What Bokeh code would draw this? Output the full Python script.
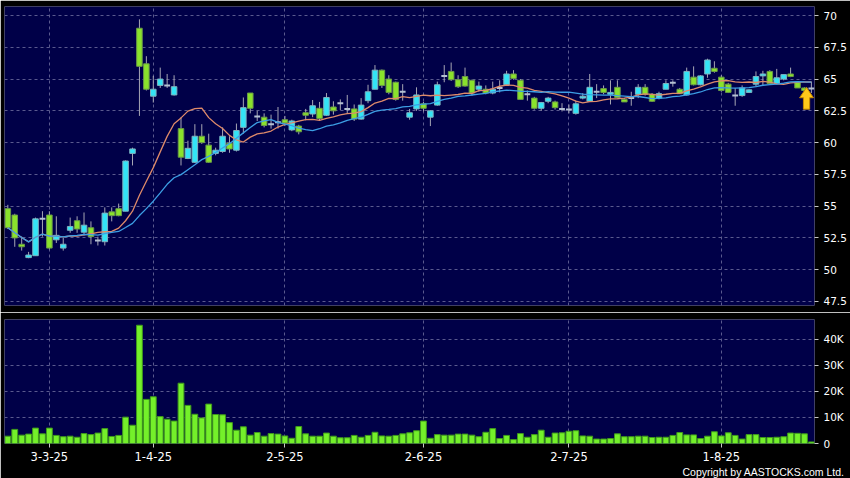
import numpy as np
import pandas as pd
from bokeh.plotting import figure
from bokeh.layouts import column
from bokeh.models import Range1d, FixedTicker, Title
from bokeh.embed import file_html
from bokeh.resources import INLINE

# ---------------- data ----------------
date_labels = ["3-3-25", "1-4-25", "2-5-25", "2-6-25", "2-7-25", "1-8-25"]
date_idx = [6, 21, 40, 60, 81, 103]

opens = [54.8, 54.3, 52.0, 50.95, 51.1, 54.0, 54.3, 52.35, 51.7, 53.1,
         53.85, 52.95, 53.3, 52.3, 52.2, 54.55, 54.8, 54.6, 59.15, 69.0,
         66.2, 63.65, 64.5, 64.5, 63.75, 61.1, 58.75, 58.45, 60.5, 59.8,
         59.15, 59.3, 59.95, 59.4, 61.2, 63.9, 62.05, 62.0, 61.45, 61.6,
         61.8, 61.0, 61.3, 62.35, 62.25, 62.7, 62.15, 62.8, 63.1, 62.65,
         62.65, 61.85, 63.3, 64.2, 65.7, 65.0, 64.75, 64.0, 62.0, 62.65,
         63.05, 62.0, 62.95, 65.25, 65.6, 64.95, 65.2, 64.9, 64.2, 64.2,
         63.9, 64.3, 64.55, 65.4, 64.9, 63.8, 63.5, 62.7, 63.25, 63.2,
         62.65, 62.6, 62.3, 63.5, 63.25, 64.0, 64.25, 63.8, 64.35, 63.4,
         63.5, 63.8, 64.35, 63.8, 63.5, 64.2, 64.7, 64.2, 63.75, 65.15,
         64.55, 65.4, 65.85, 65.15, 64.6, 63.7, 63.7, 63.95, 64.6, 65.25,
         65.6, 64.65, 65.0, 65.4, 64.75, 64.3, 64.25]
highs = [55.1, 54.4, 52.6, 51.4, 54.1, 54.6, 54.6, 54.2, 52.5, 54.1,
         54.2, 54.5, 53.8, 52.6, 54.9, 54.9, 55.2, 58.6, 59.6, 69.7,
         66.8, 65.25, 65.9, 65.4, 65.3, 62.0, 60.15, 61.45, 61.45, 60.7,
         59.6, 61.2, 60.5, 61.5, 63.55, 63.9, 62.5, 62.3, 62.2, 62.8,
         62.1, 61.8, 61.4, 62.65, 63.35, 63.2, 63.9, 63.25, 63.4, 63.75,
         63.0, 63.5, 64.55, 66.1, 65.75, 65.3, 64.8, 64.6, 62.65, 64.35,
         63.2, 62.55, 64.8, 66.1, 66.3, 65.3, 65.9, 64.95, 64.8, 64.5,
         64.8, 64.9, 65.65, 65.7, 65.0, 64.1, 63.6, 63.2, 63.6, 63.3,
         63.1, 63.0, 63.3, 63.9, 65.4, 64.6, 64.5, 64.9, 64.9, 63.5,
         64.0, 64.6, 64.6, 63.9, 64.0, 64.9, 64.9, 64.3, 65.9, 66.0,
         65.3, 66.6, 66.4, 65.3, 64.7, 64.3, 64.5, 64.2, 65.6, 65.65,
         65.7, 65.8, 65.35, 65.9, 64.8, 64.35, 64.8]
lows = [53.2, 51.8, 51.5, 50.9, 51.1, 52.6, 51.6, 52.1, 51.5, 52.9,
        52.9, 52.7, 52.0, 51.9, 51.9, 53.8, 54.2, 54.6, 58.2, 62.1,
        64.1, 63.15, 64.3, 64.3, 63.7, 58.2, 58.7, 58.4, 59.9, 58.4,
        59.0, 59.2, 59.2, 59.3, 60.7, 62.3, 61.7, 61.2, 61.1, 61.1,
        61.3, 60.9, 60.65, 61.75, 62.0, 61.75, 62.1, 62.2, 62.55, 62.25,
        61.7, 61.8, 63.1, 64.2, 64.3, 63.8, 63.3, 63.3, 61.8, 62.5,
        62.45, 61.3, 62.9, 64.75, 64.85, 64.3, 64.4, 63.7, 64.0, 63.8,
        63.8, 63.95, 64.5, 64.95, 63.4, 63.3, 62.6, 62.5, 63.1, 62.6,
        62.45, 62.3, 62.2, 63.4, 63.2, 63.5, 63.8, 63.0, 63.5, 63.2,
        62.9, 63.5, 63.7, 63.2, 63.4, 64.2, 64.4, 63.85, 63.7, 64.5,
        64.5, 65.1, 65.5, 64.0, 63.9, 62.9, 63.6, 63.9, 64.4, 64.5,
        64.65, 64.6, 64.9, 65.15, 64.3, 64.1, 63.9]
closes = [53.3, 52.5, 51.8, 51.15, 54.0, 54.0, 51.7, 52.7, 52.0, 53.4,
          53.2, 53.5, 52.6, 52.3, 54.45, 54.25, 54.25, 58.55, 59.5, 66.0,
          64.2, 64.2, 65.0, 64.5, 64.4, 58.85, 59.55, 60.5, 60.0, 58.45,
          59.4, 60.5, 59.5, 60.95, 62.75, 62.7, 62.05, 61.35, 61.45, 61.6,
          61.55, 61.7, 60.85, 62.15, 62.9, 61.9, 63.55, 62.5, 63.1, 62.65,
          61.85, 62.95, 64.0, 65.7, 64.5, 63.95, 63.4, 64.0, 62.35, 63.75,
          62.7, 62.5, 64.55, 65.25, 64.95, 64.4, 64.45, 63.9, 64.45, 63.9,
          64.2, 64.3, 65.4, 65.05, 63.4, 63.8, 62.7, 63.15, 63.5, 62.75,
          62.65, 62.6, 63.05, 63.65, 64.35, 64.0, 63.95, 63.95, 63.55, 63.2,
          63.5, 64.35, 63.8, 63.25, 63.85, 64.65, 64.7, 63.85, 65.6, 64.55,
          65.25, 66.5, 65.6, 64.1, 63.95, 63.7, 64.3, 64.15, 65.2, 65.4,
          64.65, 65.1, 65.35, 65.2, 64.3, 64.1, 64.25]
volumes = [2800, 5400, 3200, 3600, 5900, 3700, 5900, 3100, 2600, 2800,
           2400, 3800, 3400, 4000, 5700, 2700, 3100, 10100, 7000, 45300,
           16900, 17900, 10300, 9300, 8600, 23100, 14600, 11200, 9800, 15100,
           11100, 11000, 8000, 5100, 6400, 3200, 4200, 2800, 3800, 3600,
           2900, 2000, 6500, 3700, 2800, 2800, 4000, 2800, 2200, 2200,
           3100, 2400, 3100, 4300, 2900, 2800, 3100, 3700, 4100, 4900,
           8600, 2000, 3400, 3200, 3200, 3600, 3600, 3200, 2600, 4300,
           5700, 1900, 3100, 1500, 3800, 2400, 3400, 5100, 2400, 4000,
           4100, 4700, 4900, 2900, 2800, 1700, 1700, 1900, 3700, 2600,
           2600, 2800, 2800, 2300, 2400, 2400, 3100, 4200, 3300, 3300,
           1900, 2800, 4500, 2900, 4100, 3100, 1700, 3400, 3400, 2300,
           2300, 2400, 2600, 4000, 3900, 3700, 600]

price_ticks = [47.5, 50, 52.5, 55, 57.5, 60, 62.5, 65, 67.5, 70]
price_tick_labels = ["47.5", "50", "52.5", "55", "57.5", "60", "62.5", "65", "67.5", "70"]
vol_ticks = [0, 10000, 20000, 30000, 40000]
vol_tick_labels = ["0", "10K", "20K", "30K", "40K"]
copyright_text = "Copyright by AASTOCKS.com Ltd."

# ---------------- styles ----------------
NAVY = "#000048"
GRID = "#5a5a8e"
CYAN = "#33e4f6"
CYAN_EDGE = "#7fb2bf"
GREEN = "#8ae22c"
GREEN_EDGE = "#6a9a48"
WICK = "#a6a6b4"
DOJI = "#b4c0d2"
VOL = "#74f02a"
VOL_EDGE = "#3f9a1c"
MA_S = "#de8a6a"
MA_L = "#3c9ee4"
FONT = "DejaVu Sans"

o = np.array(opens); h = np.array(highs); l = np.array(lows); c = np.array(closes)
x = np.arange(len(c))
up = c > o
dn = c < o
dj = c == o
ma_short = pd.Series(c).rolling(10, min_periods=1).mean()
ma_long = pd.Series(c).rolling(20, min_periods=1).mean()

xr = Range1d(-0.48, 116.45)


def style_axis(ax, size):
    ax.axis_line_color = None
    ax.major_tick_line_color = "#c8c8c8"
    ax.major_tick_in = 0
    ax.major_tick_out = 4
    ax.minor_tick_line_color = None
    ax.major_label_text_color = "white"
    ax.major_label_text_font = FONT
    ax.major_label_text_font_size = size


def style_grid(fig):
    for g in (fig.xgrid[0], fig.ygrid[0]):
        g.grid_line_color = GRID
        g.grid_line_dash = "3 3"
        g.grid_line_width = 1


# ---------------- price panel ----------------
p = figure(width=850, height=312, output_backend="svg", toolbar_location=None,
           x_range=xr, y_range=Range1d(47.18, 70.71),
           x_axis_location=None, y_axis_location="right",
           min_border_left=4, min_border_right=36, min_border_top=6, min_border_bottom=7,
           background_fill_color=NAVY, border_fill_color="black", outline_line_color=None)
p.yaxis.ticker = FixedTicker(ticks=price_ticks)
p.yaxis.major_label_overrides = {float(t): s for t, s in zip(price_ticks, price_tick_labels)}
style_axis(p.yaxis[0], "10.5px")
p.yaxis.major_label_standoff = 5
p.xgrid.ticker = FixedTicker(ticks=date_idx)
style_grid(p)

p.segment(x0=x, y0=l, x1=x, y1=h, line_color=WICK, line_width=1)
p.vbar(x=x[up], bottom=o[up], top=c[up], width=0.8, fill_color=CYAN, line_color=CYAN_EDGE, line_width=1)
p.vbar(x=x[dn], bottom=c[dn], top=o[dn], width=0.8, fill_color=GREEN, line_color=GREEN_EDGE, line_width=1)
p.segment(x0=x[dj] - 0.42, y0=c[dj], x1=x[dj] + 0.42, y1=c[dj], line_color=DOJI, line_width=2)
p.line(x, ma_short, line_color=MA_S, line_width=1.3)
p.line(x, ma_long, line_color=MA_L, line_width=1.3)

# yellow "latest" arrow under the last candle
xa = x[-1] - 0.7
tip = c[-1] + 0.08
head_w, shaft_w = 1.0, 0.45
p.patch([xa, xa + head_w, xa + shaft_w, xa + shaft_w, xa - shaft_w, xa - shaft_w, xa - head_w],
        [tip, tip - 0.8, tip - 0.8, tip - 1.7, tip - 1.7, tip - 0.8, tip - 0.8],
        fill_color="#ffc81a", line_color="#c98a00", line_width=1)

# ---------------- volume panel ----------------
v = figure(width=850, height=166, output_backend="svg", toolbar_location=None,
           x_range=xr, y_range=Range1d(0, 47500),
           x_axis_location="below", y_axis_location="right",
           min_border_left=4, min_border_right=36, min_border_top=7, min_border_bottom=35,
           background_fill_color=NAVY, border_fill_color="black", outline_line_color=None)
v.yaxis.ticker = FixedTicker(ticks=vol_ticks)
v.yaxis.major_label_overrides = {t: s for t, s in zip(vol_ticks, vol_tick_labels)}
style_axis(v.yaxis[0], "10.5px")
v.yaxis.major_label_standoff = 5
v.xaxis.ticker = FixedTicker(ticks=date_idx)
v.xaxis.major_label_overrides = {t: s for t, s in zip(date_idx, date_labels)}
style_axis(v.xaxis[0], "11.5px")
v.xaxis.major_label_standoff = 4
style_grid(v)

v.vbar(x=x, top=volumes, bottom=0, width=0.84, fill_color=VOL, line_color=VOL_EDGE, line_width=1)

v.add_layout(Title(text=copyright_text, align="right", offset=-30, standoff=0,
                   text_color="white", text_font="Liberation Sans",
                   text_font_size="10.5px", text_font_style="normal"), "below")

layout = column(p, v, spacing=0)
open("out.html", "w").write(file_html(layout, INLINE))
